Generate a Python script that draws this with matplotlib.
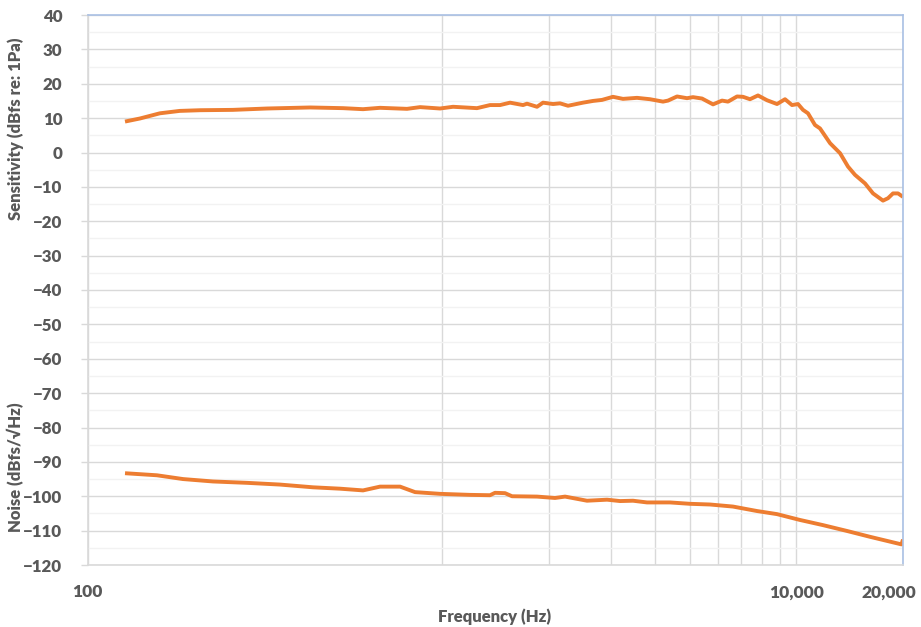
import numpy as np
import matplotlib
matplotlib.use("Agg")
import matplotlib.pyplot as plt
from matplotlib.ticker import FixedLocator, FixedFormatter, MultipleLocator
import matplotlib.transforms as mtransforms

# sensitivity curve (Hz, dBfs re 1Pa)
sens_freq = [127.6, 140.7, 160, 182, 208, 257, 321, 425, 526, 599, 669, 797, 868,
             988, 1075, 1256, 1367, 1459, 1557, 1694, 1738, 1855, 1929, 2059, 2154,
             2269, 2501, 2669, 2830, 3039, 3243, 3552, 3866, 4206, 4345, 4607, 4916,
             5111, 5419, 5821, 6171, 6416, 6803, 7073, 7401, 7796, 8267, 8822, 9292,
             9723, 10111, 10444, 10789, 11291, 11665, 12453, 13287, 13991, 14641,
             15628, 16461, 17563, 18143, 18743, 19364, 20000]
sens_db = [9.0, 9.9, 11.4, 12.1, 12.3, 12.4, 12.8, 13.1, 12.9, 12.6, 13.0, 12.7, 13.2,
           12.8, 13.3, 12.9, 13.8, 13.8, 14.5, 13.8, 14.2, 13.3, 14.5, 14.1, 14.3,
           13.6, 14.5, 15.0, 15.3, 16.2, 15.6, 15.9, 15.5, 14.8, 15.1, 16.3, 15.8,
           16.1, 15.7, 14.0, 15.1, 14.8, 16.3, 16.2, 15.5, 16.6, 15.2, 14.1, 15.5,
           13.8, 14.1, 12.4, 11.4, 8.0, 7.0, 2.7, -0.2, -4.1, -6.5,
           -9.0, -11.9, -14.0, -13.3, -11.9, -11.9, -12.9]

# noise curve (Hz, dBfs/sqrt(Hz))
noise_freq = [127.6, 157, 186, 226, 282, 349, 433, 516, 599, 669, 762, 840, 988,
              1200, 1367, 1412, 1507, 1577, 1855, 2085, 2226, 2567, 2924, 3181, 3461,
              3791, 4401, 5012, 5708, 6628, 7746, 8822, 10242, 11893, 13902, 16144,
              18382, 19800, 20000]
noise_db = [-93.3, -93.9, -95.0, -95.7, -96.1, -96.6, -97.4, -97.8, -98.3, -97.2, -97.2,
            -98.8, -99.3, -99.6, -99.7, -99.0, -99.1, -100.0, -100.1, -100.5, -100.1,
            -101.3, -101.0, -101.4, -101.3, -101.8, -101.8, -102.2, -102.4, -103.0,
            -104.3, -105.2, -106.9, -108.4, -110.1, -111.8, -113.2, -114.0, -112.6]

x_major = [100, 10000, 20000]
x_major_labels = ["100", "10,000", "20,000"]
x_minor = [1000, 2000, 3000, 4000, 5000, 6000, 7000, 8000, 9000]

orange = "#ED7D31"
gris = "#595959"
plt.rcParams['font.family'] = ['Lato', 'DejaVu Sans']

fig = plt.figure(figsize=(9.21, 6.27), dpi=100)
ax = fig.add_axes([87.5/921, 1 - 565/627, (903 - 87.5)/921, (565 - 15)/627])

ax.plot(sens_freq, sens_db, color=orange, lw=2.8, solid_capstyle='butt')
ax.plot(noise_freq, noise_db, color=orange, lw=2.8, solid_capstyle='butt')

ax.set_xscale('log')
ax.set_xlim(100, 20000)
ax.set_ylim(-120, 40)

ax.xaxis.set_major_locator(FixedLocator(x_major))
ax.xaxis.set_major_formatter(FixedFormatter(x_major_labels))
ax.xaxis.set_minor_locator(FixedLocator(x_minor))
ax.xaxis.set_minor_formatter(FixedFormatter([""] * len(x_minor)))
ax.yaxis.set_major_locator(MultipleLocator(10))
ax.yaxis.set_minor_locator(MultipleLocator(5))

ax.grid(which='major', axis='both', color='#D9D9D9', lw=1.0)
ax.grid(which='minor', axis='x', color='#D9D9D9', lw=1.0)
ax.grid(which='minor', axis='y', color='#F2F2F2', lw=1.0)
ax.set_axisbelow(True)

ax.tick_params(which='minor', length=0)
ax.tick_params(axis='x', which='major', length=0, pad=14, labelsize=12.5,
               labelcolor=gris)
ax.tick_params(axis='y', which='major', length=5, width=1, color='#D9D9D9',
               pad=13, labelsize=12.2, labelcolor=gris)
for lbl in ax.get_xticklabels() + ax.get_yticklabels():
    lbl.set_fontweight('heavy')

# mover 20,000 a la izquierda para que entre en la figura
desp = mtransforms.ScaledTranslation(-14/100, 0, fig.dpi_scale_trans)
for lbl in ax.get_xticklabels():
    if lbl.get_text() == "20,000":
        lbl.set_transform(lbl.get_transform() + desp)

for lado in ['left', 'bottom']:
    ax.spines[lado].set_color('#D9D9D9')
    ax.spines[lado].set_linewidth(1.2)
for lado in ['top', 'right']:
    ax.spines[lado].set_color('#A9C0E4')
    ax.spines[lado].set_linewidth(1.2)

fig.text(495/921, 1 - 617/627, "Frequency (Hz)", ha='center', va='center',
         fontsize=12, fontweight='heavy', color=gris)
fig.text(16/921, 1 - 129/627, "Sensitivity (dBfs re: 1Pa)", rotation=90,
         ha='center', va='center', fontsize=12, fontweight='heavy', color=gris)
fig.text(16/921, 1 - 467/627, "Noise (dBfs/\u221aHz)", rotation=90,
         ha='center', va='center', fontsize=12, fontweight='heavy', color=gris)

fig.savefig("out.png", dpi=100)
